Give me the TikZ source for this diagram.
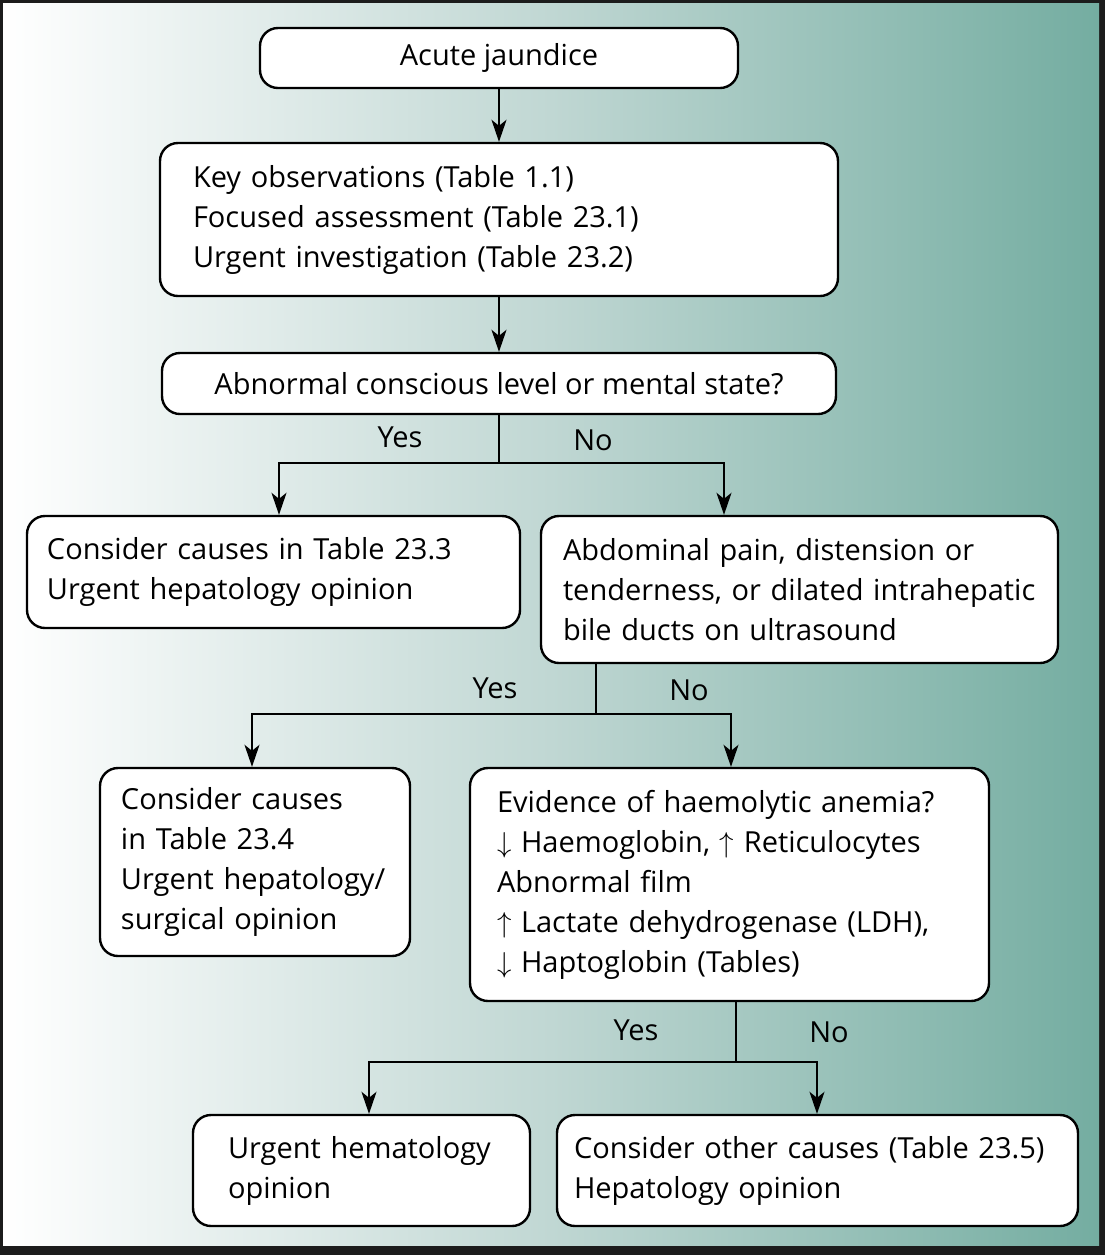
\documentclass[tikz,border=0pt]{standalone}
\usepackage{fontspec}
\setmainfont{Open Sans}
\usetikzlibrary{positioning,arrows.meta}

\definecolor{framegray}{RGB}{28,28,28}
\definecolor{tealmid}{RGB}{192,215,211}
\definecolor{tealright}{RGB}{116,173,161}

\begin{document}
\begin{tikzpicture}[x=0.5pt,y=-0.5pt,
  box/.style={draw=black, line width=1.2pt, fill=white, rounded corners=9pt, font={\fontsize{14.5}{20}\selectfont}},
  cbox/.style={box, align=center},
  lbox/.style 2 args={box, align=left, inner xsep=2pt, text width={#1-4pt},
    execute at begin node={\leftskip=#2\hyphenpenalty=10000}},
  conn/.style={line width=1pt},
  flow/.style={line width=1pt, -{Stealth[length=11pt,width=7.5pt,inset=3pt]}},
  ans/.style={font={\fontsize{14.5}{20}\selectfont}, inner sep=0pt}
]
% frame and background
\fill[framegray] (0,0) rectangle (1105,1255);
\shade[left color=white, right color=tealright, middle color=tealmid] (3,3) rectangle (1099,1245);

% boxes
\node[cbox, minimum width=239pt, minimum height=30pt] (acute) at (499,58) {Acute jaundice};
\node[lbox={339pt}{14.5pt}, minimum height=76.5pt] (keyobs) at (499,219.5)
  {Key observations (Table 1.1)\\ Focused assessment (Table 23.1)\\ Urgent investigation (Table 23.2)};
\node[cbox, minimum width=337pt, minimum height=30.5pt] (mental) at (499,383.5) {Abnormal conscious level or mental state?};
\node[lbox={246.5pt}{8pt}, minimum height=56pt] (hepat) at (273.5,572)
  {Consider causes in Table 23.3\\ Urgent hepatology opinion};
\node[lbox={258.5pt}{9pt}, minimum height=73.5pt] (abdo) at (799.5,589.5)
  {Abdominal pain, distension or\\ tenderness, or dilated intrahepatic\\ bile ducts on ultrasound};
\node[lbox={155pt}{8.5pt}, minimum height=94pt] (surg) at (255,862)
  {Consider causes\\ in Table 23.4\\ Urgent hepatology/\\ surgical opinion};
\node[lbox={259.5pt}{11.5pt}, minimum height=116.5pt] (haem) at (729.5,884.5)
  {Evidence of haemolytic anemia?\\ $\downarrow$ Haemoglobin, $\uparrow$ Reticulocytes\\ Abnormal film\\
   $\uparrow$ Lactate dehydrogenase (LDH),\\ $\downarrow$ Haptoglobin (Tables)};
\node[lbox={168.5pt}{15.5pt}, minimum height=55.5pt] (hemat) at (361.5,1170.5)
  {Urgent hematology\\ opinion};
\node[lbox={260.5pt}{6.5pt}, minimum height=55.5pt] (other) at (817.5,1170.5)
  {Consider other causes (Table 23.5)\\ Hepatology opinion};

% branch points
\coordinate (s1) at (499,463);
\coordinate (s1l) at (279,463);
\coordinate (s1r) at (724,463);
\coordinate (s2) at (596,714);
\coordinate (s2l) at (252,714);
\coordinate (s2r) at (731,714);
\coordinate (s3) at (736,1062);
\coordinate (s3l) at (369,1062);
\coordinate (s3r) at (817,1062);

% connectors
\draw[flow] (acute) -- (keyobs);
\draw[flow] (keyobs) -- (mental);
\draw[conn] (mental.south) -- (s1);
\draw[flow] (s1) -| (hepat.north -| s1l);
\draw[flow] (s1) -| (abdo.north -| s1r);
\draw[conn] (abdo.south -| s2) -- (s2);
\draw[flow] (s2) -| (surg.north -| s2l);
\draw[flow] (s2) -| (haem.north -| s2r);
\draw[conn] (haem.south -| s3) -- (s3);
\draw[flow] (s3) -| (hemat.north -| s3l);
\draw[flow] (s3) -| (other.north -| s3r);

% answers
\node[ans] (yes1) at (400,437) {Yes};
\node[ans] (no1) at (593,440) {No};
\node[ans] (yes2) at (495,688) {Yes};
\node[ans] (no2) at (689,690) {No};
\node[ans] (yes3) at (636,1030) {Yes};
\node[ans] (no3) at (829,1032) {No};
\end{tikzpicture}
\end{document}
